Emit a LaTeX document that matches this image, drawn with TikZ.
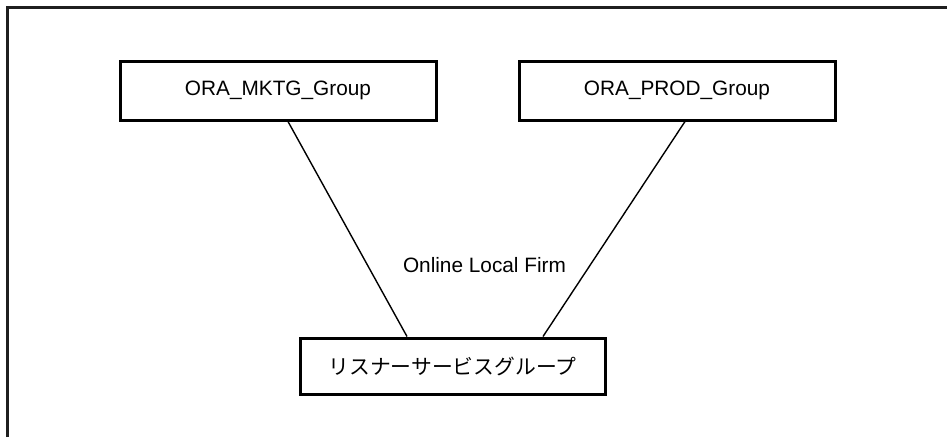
\documentclass[tikz,border=0pt]{standalone}
\usepackage{fontspec}
\setmainfont{Liberation Sans}
\newfontfamily\jpfont{Noto Sans CJK JP}
\begin{document}
\begin{tikzpicture}[x=1pt,y=-1pt,
  groupbox/.style={draw=black,line width=3pt,minimum height=59pt,inner sep=0pt,font=\fontsize{20.8}{24}\selectfont},
  link/.style={draw=black,line width=1.4pt},
  lbl/.style={font=\fontsize{20.8}{24}\selectfont,inner sep=0pt}]
\useasboundingbox (0,0) rectangle (947,437);
\fill[white] (0,0) rectangle (947,437);
\draw[line width=3pt,color=black!88] (7.5,437) -- (7.5,7.5) -- (947,7.5);
\node[groupbox,minimum width=316pt] (mktg) at (278,90.5) {ORA\_MKTG\_Group};
\node[groupbox,minimum width=316pt] (prod) at (677,90.5) {ORA\_PROD\_Group};
\node[groupbox,minimum width=305pt,minimum height=56pt,font=\jpfont\fontsize{20.8}{24}\selectfont] (lsg) at (452.5,366) {リスナーサービスグループ};
\draw[link] ([xshift=10pt]mktg.south) -- ([xshift=-45.5pt]lsg.north);
\draw[link] ([xshift=8pt]prod.south) -- ([xshift=90.5pt]lsg.north);
\node[lbl] (firm) at (484.5,265) {Online Local Firm};
\end{tikzpicture}
\end{document}
